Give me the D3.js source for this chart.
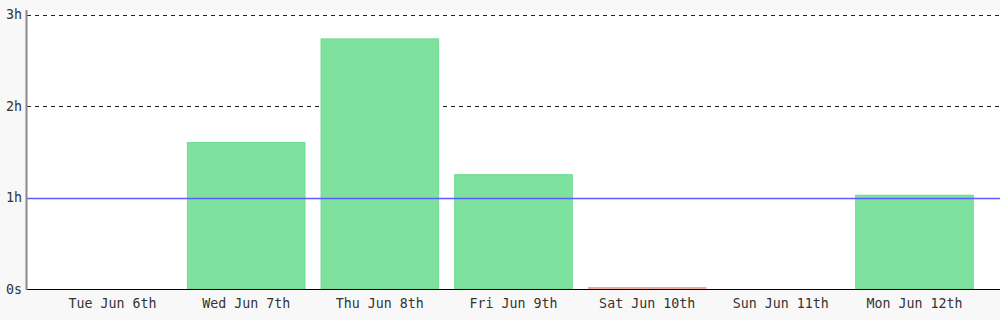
<!DOCTYPE html>
<html>
<head>
<meta charset="utf-8">
<script src="https://cdn.jsdelivr.net/npm/d3@7"></script>
<style>
  body { margin: 0; background: #f8f8f8; }
  svg { display: block; font-family: "DejaVu Sans Mono", monospace; }
</style>
</head>
<body>
<div id="chart"></div>
<script>
// minutes per day
const days = ["Tue Jun 6th", "Wed Jun 7th", "Thu Jun 8th", "Fri Jun 9th", "Sat Jun 10th", "Sun Jun 11th", "Mon Jun 12th"];
const minutes = [0, 96, 164, 75, 1, 0, 61.5];
const status = ["ok", "ok", "ok", "ok", "miss", "ok", "ok"];
const yTicks = [0, 60, 120, 180];
const yTickLabels = ["0s", "1h", "2h", "3h"];
const goal = 60;

const chartW = 1000, chartH = 320;
const plotLeft = 27, plotTop = 10, plotBottom = 289;

const svg = d3.select("#chart").append("svg")
  .attr("width", chartW)
  .attr("height", chartH);

svg.append("rect")
  .attr("x", plotLeft).attr("y", plotTop)
  .attr("width", chartW - plotLeft).attr("height", plotBottom - plotTop)
  .attr("fill", "#fff");

let x = d3.scaleBand()
  .domain(days)
  .range([plotLeft, chartW])
  .paddingInner(0.12)
  .paddingOuter(0.2);

let y = d3.scaleLinear()
  .domain([0, 180])
  .range([plotBottom, 14.5]);

// grid lines
svg.append("g")
  .selectAll("line")
  .data(yTicks.filter(t => t > goal))
  .join("line")
  .attr("x1", plotLeft).attr("x2", chartW)
  .attr("y1", d => Math.round(y(d)) + 0.5)
  .attr("y2", d => Math.round(y(d)) + 0.5)
  .attr("stroke", "#222")
  .attr("stroke-dasharray", "4,4");

svg.append("g")
  .selectAll("rect")
  .data(days)
  .join("rect")
  .attr("x", d => x(d))
  .attr("width", x.bandwidth())
  .attr("y", (d, i) => y(minutes[i]))
  .attr("height", (d, i) => plotBottom - y(minutes[i]))
  .attr("fill", (d, i) => status[i] == "miss" ? "#f6b0a4" : "#7ee29e")
  .attr("stroke", (d, i) => status[i] == "miss" ? "#f3a394" : "#6fdc91")
  .attr("stroke-width", 1)
  .attr("display", (d, i) => minutes[i] > 0 ? null : "none");

// goal line
svg.append("line")
  .attr("x1", plotLeft).attr("x2", chartW)
  .attr("y1", Math.round(y(goal)) + 0.5)
  .attr("y2", Math.round(y(goal)) + 0.5)
  .attr("stroke", "#5b5bff")
  .attr("stroke-width", 1.3);

const yAxis = svg.append("g")
  .attr("transform", `translate(${plotLeft},0)`)
  .call(d3.axisLeft(y).tickValues(yTicks).tickFormat((d, i) => yTickLabels[i]).tickSize(0).tickPadding(5));
yAxis.select(".domain").remove();
yAxis.selectAll("text").attr("font-size", 13.3).attr("fill", "#333").attr("font-family", "DejaVu Sans Mono");

const xAxis = svg.append("g")
  .attr("transform", `translate(0,${plotBottom})`)
  .call(d3.axisBottom(x).tickSize(0).tickPadding(10));
xAxis.select(".domain").remove();
xAxis.selectAll("text").attr("font-size", 13.3).attr("fill", "#333").attr("font-family", "DejaVu Sans Mono");

svg.append("line")
  .attr("x1", plotLeft).attr("x2", chartW)
  .attr("y1", plotBottom + 0.5).attr("y2", plotBottom + 0.5)
  .attr("stroke", "#000");

svg.append("line")
  .attr("x1", plotLeft - 0.5).attr("x2", plotLeft - 0.5)
  .attr("y1", plotTop).attr("y2", plotBottom + 1)
  .attr("stroke", "#888")
  .attr("stroke-width", 2);
</script>
</body>
</html>
